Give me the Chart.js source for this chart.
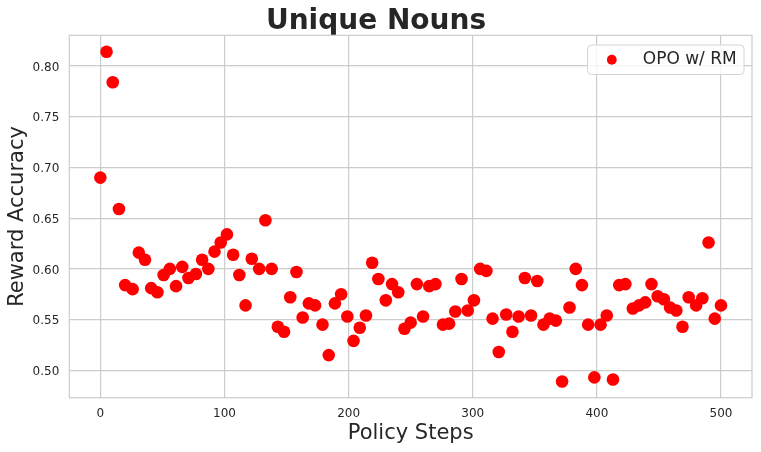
<!DOCTYPE html>
<html>
<head>
<meta charset="utf-8">
<script src="https://cdn.jsdelivr.net/npm/chart.js@4"></script>
<style>
  body { margin: 0; background: #fff; }
  #wrap { width: 761px; height: 452px; }
</style>
</head>
<body>
<div id="wrap"><canvas id="myChart" width="761" height="452"></canvas></div>
<script>
//DATA
var steps = [0, 5, 10, 15, 20, 26, 31, 36, 41, 46,
  51, 56, 61, 66, 71, 77, 82, 87, 92, 97,
  102, 107, 112, 117, 122, 128, 133, 138, 143, 148,
  153, 158, 163, 168, 173, 179, 184, 189, 194, 199,
  204, 209, 214, 219, 224, 230, 235, 240, 245, 250,
  255, 260, 265, 270, 276, 281, 286, 291, 296, 301,
  306, 311, 316, 321, 327, 332, 337, 342, 347, 352,
  357, 362, 367, 372, 378, 383, 388, 393, 398, 403,
  408, 413, 418, 423, 429, 434, 439, 444, 449, 454,
  459, 464, 469, 474, 480, 485, 490, 495, 500];

var rewardAcc = [0.690, 0.814, 0.784, 0.659, 0.584, 0.580, 0.616, 0.609, 0.581, 0.577,
  0.594, 0.600, 0.583, 0.602, 0.591, 0.595, 0.609, 0.600, 0.617, 0.626,
  0.634, 0.614, 0.594, 0.564, 0.610, 0.600, 0.648, 0.600, 0.543, 0.538,
  0.572, 0.597, 0.552, 0.566, 0.564, 0.545, 0.515, 0.566, 0.575, 0.553,
  0.529, 0.542, 0.554, 0.606, 0.590, 0.569, 0.585, 0.577, 0.541, 0.547,
  0.585, 0.553, 0.583, 0.585, 0.545, 0.546, 0.558, 0.590, 0.559, 0.569,
  0.600, 0.598, 0.551, 0.518, 0.555, 0.538, 0.553, 0.591, 0.554, 0.588,
  0.545, 0.551, 0.549, 0.489, 0.562, 0.600, 0.584, 0.545, 0.493, 0.545,
  0.554, 0.491, 0.584, 0.585, 0.561, 0.564, 0.567, 0.585, 0.573, 0.570,
  0.562, 0.559, 0.543, 0.572, 0.564, 0.571, 0.626, 0.551, 0.564];

var xTicks = [0, 100, 200, 300, 400, 500];
var yTicks = [0.50, 0.55, 0.60, 0.65, 0.70, 0.75, 0.80];
var seriesName = "OPO w/ RM";

Chart.defaults.font.family = "'DejaVu Sans', sans-serif";
Chart.defaults.color = "#262626";

var points = steps.map(function(s, i) { return { x: s, y: rewardAcc[i] }; });

//frame around plot area (spines)
const framePlugin = {
  id: "plotFrame",
  afterDatasetsDraw: (chart) => {
    let a = chart.chartArea;
    let ctx = chart.ctx;
    ctx.save();
    ctx.strokeStyle = "#cccccc";
    ctx.lineWidth = 1.2;
    ctx.strokeRect(a.left, a.top, a.right - a.left, a.bottom - a.top);
    ctx.restore();
  }
};

//matplotlib style legend box
const legendBoxPlugin = {
  id: "legendBox",
  afterDraw: (chart) => {
    let a = chart.chartArea;
    let ctx = chart.ctx;
    let ds = chart.data.datasets[0];
    let w = 156.5, h = 29.5;
    let x = a.right - 8 - w, y = a.top + 9.7;

    ctx.save();
    ctx.beginPath();
    ctx.roundRect(x, y, w, h, 4);
    ctx.fillStyle = "rgba(255,255,255,0.8)";
    ctx.fill();
    ctx.strokeStyle = "#d4d4d4";
    ctx.lineWidth = 1;
    ctx.stroke();

    ctx.beginPath();
    ctx.arc(x + 24.3, y + h / 2, 4.9, 0, Math.PI * 2);
    ctx.fillStyle = ds.backgroundColor;
    ctx.fill();

    ctx.font = "17px 'DejaVu Sans', sans-serif";
    ctx.fillStyle = "#262626";
    ctx.textBaseline = "middle";
    ctx.textAlign = "left";
    ctx.fillText(ds.label, x + 55.3, y + h / 2 - 0.5);
    ctx.restore();
  }
};

var chart = new Chart(document.getElementById("myChart"), {
  type: "scatter",
  data: {
    datasets: [{
      label: seriesName,
      data: points,
      backgroundColor: "#ff0000",
      borderWidth: 0,
      pointRadius: 6.3,
      pointHoverRadius: 6.3
    }]
  },
  options: {
    responsive: false,
    animation: false,
    events: [],
    layout: { padding: { left: 0, right: 9, top: 0, bottom: 0 } },
    plugins: {
      legend: { display: false },
      tooltip: { enabled: false },
      title: {
        display: true,
        text: "Unique Nouns",
        color: "#262626",
        font: { size: 28, weight: "bold", lineHeight: 0.971 },
        padding: { top: 8.1, bottom: 0 }
      }
    },
    scales: {
      x: {
        type: "linear",
        min: -25,
        max: 525,
        afterBuildTicks: (scale) => { scale.ticks = xTicks.map(v => ({ value: v })); },
        afterFit: (scale) => { scale.height = 54.3; },
        grid: { color: "#cccccc", lineWidth: 1.2, drawTicks: false },
        border: { display: false },
        ticks: { padding: 9, font: { size: 12 }, color: "#262626" },
        title: {
          display: true,
          text: "Policy Steps",
          color: "#262626",
          font: { size: 21 },
          padding: { top: 0, bottom: 5.8 }
        }
      },
      y: {
        type: "linear",
        min: 0.473,
        max: 0.8303,
        afterBuildTicks: (scale) => { scale.ticks = yTicks.map(v => ({ value: v })); },
        afterFit: (scale) => { scale.width = 69.3; },
        grid: { color: "#cccccc", lineWidth: 1.2, drawTicks: false },
        border: { display: false },
        ticks: {
          padding: 10,
          labelOffset: 1.5,
          font: { size: 12 },
          color: "#262626",
          callback: (v) => Number(v).toFixed(2)
        },
        title: {
          display: true,
          text: "Reward Accuracy",
          color: "#262626",
          font: { size: 21 },
          padding: { top: 5, bottom: 0 }
        }
      }
    }
  },
  plugins: [framePlugin, legendBoxPlugin]
});
</script>
</body>
</html>
